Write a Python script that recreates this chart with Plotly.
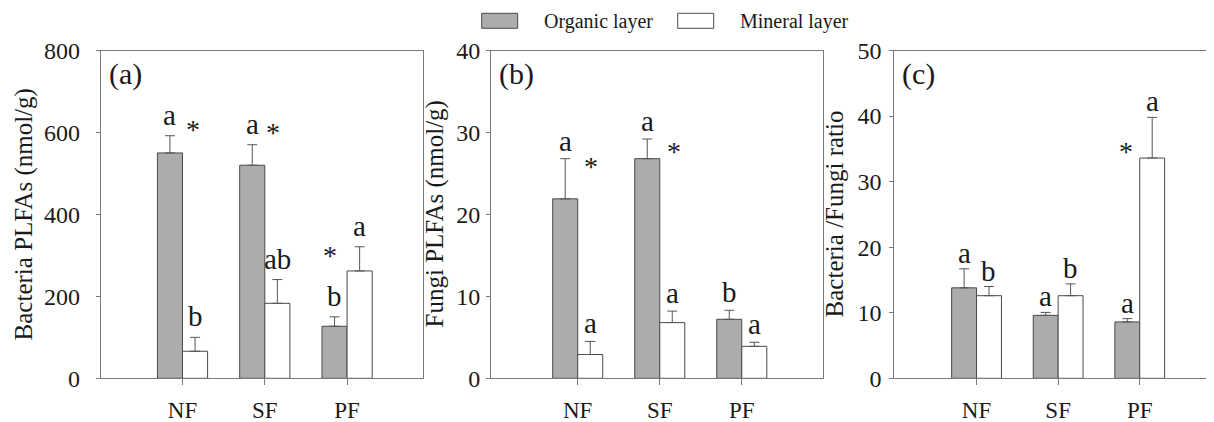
import plotly.graph_objects as go

# ---------------- data ----------------
categories = ["NF", "SF", "PF"]
series_names = ["Organic layer", "Mineral layer"]

bact_org = [550, 520, 127]
bact_org_err = [42, 50, 23]
bact_min = [66, 183, 262]
bact_min_err = [34, 58, 59]

fungi_org = [21.9, 26.8, 7.2]
fungi_org_err = [4.9, 2.4, 1.1]
fungi_min = [2.9, 6.8, 3.9]
fungi_min_err = [1.6, 1.4, 0.5]

ratio_org = [13.8, 9.6, 8.6]
ratio_org_err = [2.9, 0.45, 0.5]
ratio_min = [12.6, 12.6, 33.6]
ratio_min_err = [1.4, 1.8, 6.2]

letters_a_org = ["a", "a", "b"]
letters_a_min = ["b", "ab", "a"]
letters_b_org = ["a", "a", "b"]
letters_b_min = ["a", "a", "a"]
letters_c_org = ["a", "a", "a"]
letters_c_min = ["b", "b", "a"]

# significance stars: (category index, x offset, y value)
stars_a = [(0, 0.13, 620), (1, 0.10, 611), (2, -0.21, 312)]
stars_b = [(0, 0.16, 26.4), (1, 0.17, 28.3)]
stars_c = [(2, -0.17, 35.4)]

yticks_a = [0, 200, 400, 600, 800]
yticks_b = [0, 10, 20, 30, 40]
yticks_c = [0, 10, 20, 30, 40, 50]

panel_labels = ["(a)", "(b)", "(c)"]
y_titles = ["Bacteria PLFAs (nmol/g)", "Fungi PLFAs (nmol/g)", "Bacteria /Fungi ratio"]

# ---------------- style ----------------
OFF = 8                      # page body margin of the generated html
W, H = 1214 - OFF, 422 - OFF
FONT = "Liberation Serif"
GREY = "#acacac"
EDGE = "#4a4a4a"
AXIS = "#7a7a7a"
ERRC = "#555555"
TXT = "#1a1a1a"

def px(x):
    return (x - OFF) / W

def py(y):
    return 1 - (y - OFF) / H

x_pos = list(range(len(categories)))

panels = [
    dict(org=bact_org, oe=bact_org_err, mn=bact_min, me=bact_min_err,
         lo=letters_a_org, lm=letters_a_min, stars=stars_a, ticks=yticks_a,
         dom=(100.7, 423.3), xr=[-0.994, 2.926], yr=[0, 800], gap=10, stand=11,
         title_x=24, mirror_y=True),
    dict(org=fungi_org, oe=fungi_org_err, mn=fungi_min, me=fungi_min_err,
         lo=letters_b_org, lm=letters_b_min, stars=stars_b, ticks=yticks_b,
         dom=(491.0, 823.0), xr=[-1.057, 2.99], yr=[0, 40], gap=7, stand=1,
         title_x=435, mirror_y=True),
    dict(org=ratio_org, oe=ratio_org_err, mn=ratio_min, me=ratio_min_err,
         lo=letters_c_org, lm=letters_c_min, stars=stars_c, ticks=yticks_c,
         dom=(894.3, 1214.0), xr=[-1.008, 2.91], yr=[0, 50], gap=5, stand=3,
         title_x=834, mirror_y=False),
]

fig = go.Figure()
annotations = []
shapes = []
BAR_W = 0.305
Y_TOP, Y_BOT = 50.5, 378.3

for i, p in enumerate(panels):
    sfx = "" if i == 0 else str(i + 1)
    xa, ya = "x" + sfx, "y" + sfx
    for vals, errs, color, name in [(p["org"], p["oe"], GREY, series_names[0]),
                                    (p["mn"], p["me"], "white", series_names[1])]:
        fig.add_trace(go.Bar(
            x=x_pos, y=vals, name=name, xaxis=xa, yaxis=ya, showlegend=False,
            marker=dict(color=color, line=dict(color=EDGE, width=1)),
            error_y=dict(type="data", array=errs, arrayminus=[0] * len(errs),
                         symmetric=False, color=ERRC, thickness=1, width=5),
        ))
    # letters
    for k in range(len(categories)):
        for vals, errs, labs, off in [(p["org"], p["oe"], p["lo"], -BAR_W / 2),
                                      (p["mn"], p["me"], p["lm"], BAR_W / 2)]:
            annotations.append(dict(
                x=x_pos[k] + off, y=vals[k] + errs[k], xref=xa, yref=ya,
                text=labs[k], showarrow=False, yanchor="bottom", xanchor="center",
                yshift=p["gap"] - 7, font=dict(family=FONT, size=29, color=TXT)))
    for (k, off, yv) in p["stars"]:
        annotations.append(dict(
            x=x_pos[k] + off, y=yv, xref=xa, yref=ya, text="*", showarrow=False,
            yanchor="middle", xanchor="center", yshift=-5,
            font=dict(family=FONT, size=28, color=TXT)))
    # panel label
    annotations.append(dict(
        x=px(p["dom"][0] + 6), y=py(Y_TOP + 4), xref="paper", yref="paper",
        text=panel_labels[i], showarrow=False, xanchor="left", yanchor="top",
        font=dict(family=FONT, size=30, color=TXT)))
    # y-axis title
    annotations.append(dict(
        x=px(p["title_x"]), y=py((Y_TOP + Y_BOT) / 2), xref="paper", yref="paper",
        text=y_titles[i], showarrow=False, textangle=-90, xanchor="center",
        yanchor="middle", font=dict(family=FONT, size=25, color=TXT)))

    fig.layout["xaxis" + sfx] = dict(
        domain=[px(p["dom"][0]), px(p["dom"][1])], range=p["xr"], anchor=ya,
        tickvals=x_pos, ticktext=categories, ticks="outside", ticklen=6,
        tickcolor=AXIS, showline=True, linecolor=AXIS, linewidth=1,
        mirror=True, showgrid=False, zeroline=False, ticklabelstandoff=5,
        automargin=False,
        tickfont=dict(family=FONT, size=23, color=TXT), fixedrange=True)
    fig.layout["yaxis" + sfx] = dict(
        domain=[py(Y_BOT), py(Y_TOP)], range=p["yr"], anchor=xa,
        tickvals=p["ticks"], ticks="outside", ticklen=4, tickcolor=AXIS,
        showline=True, linecolor=AXIS, linewidth=1, mirror=p["mirror_y"],
        showgrid=False, zeroline=False, ticklabelstandoff=p["stand"],
        automargin=False,
        tickfont=dict(family=FONT, size=24, color=TXT), fixedrange=True)

# legend (drawn manually to match the original layout)
legend_items = [(481.7, GREY, 541.7), (677.7, "white", 738.0)]
for (x0, col, tx), name in zip(legend_items, series_names):
    shapes.append(dict(type="rect", xref="paper", yref="paper",
                       x0=px(x0), x1=px(x0 + 36), y0=py(28.3), y1=py(13.3),
                       fillcolor=col, line=dict(color=EDGE, width=1)))
    annotations.append(dict(x=px(tx), y=py(21), xref="paper", yref="paper",
                            text=name, showarrow=False, xanchor="left",
                            yanchor="middle",
                            font=dict(family=FONT, size=20, color=TXT)))

fig.update_layout(
    width=W, height=H, margin=dict(l=0, r=0, t=0, b=0, autoexpand=False),
    barmode="group", bargap=1 - 2 * BAR_W, bargroupgap=0,
    plot_bgcolor="white", paper_bgcolor="white",
    annotations=annotations, shapes=shapes, showlegend=False,
)

fig.write_html("out.html")
